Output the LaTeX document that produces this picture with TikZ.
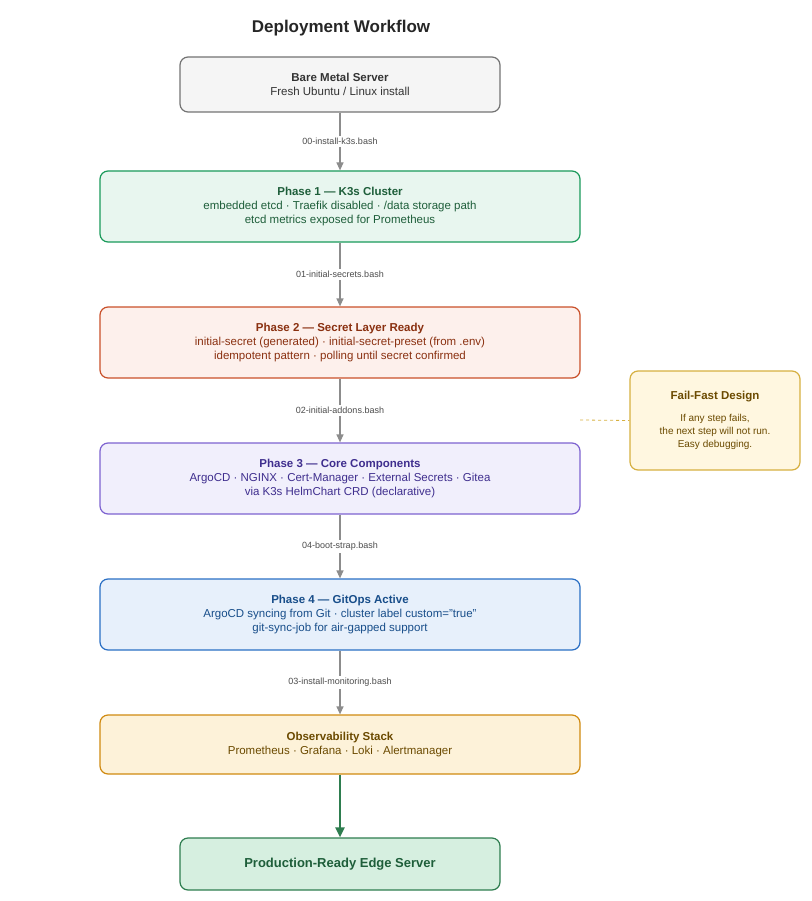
\documentclass[tikz,border=0pt]{standalone}
\usepackage{fontspec}
\setmainfont{Liberation Sans}
\usetikzlibrary{arrows.meta}
\definecolor{gS}{HTML}{1A9A5A}\definecolor{gF}{HTML}{E8F6EF}\definecolor{gT}{HTML}{1E5E3A}
\definecolor{rS}{HTML}{C9502A}\definecolor{rF}{HTML}{FDF0EC}\definecolor{rT}{HTML}{8A3010}
\definecolor{pS}{HTML}{7D62D0}\definecolor{pF}{HTML}{F1EFFC}\definecolor{pT}{HTML}{3F2E8E}
\definecolor{bS}{HTML}{2A6FC4}\definecolor{bF}{HTML}{E7F0FB}\definecolor{bT}{HTML}{184E8A}
\definecolor{oS}{HTML}{D08A10}\definecolor{oF}{HTML}{FDF2D9}\definecolor{oT}{HTML}{6B4A00}
\definecolor{fS}{HTML}{D6B040}\definecolor{fF}{HTML}{FFF7E0}
\definecolor{eS}{HTML}{2E7D4F}\definecolor{eF}{HTML}{D6EFE0}
\begin{document}
\begin{tikzpicture}[x=1pt,y=-1pt,
 box/.style={draw,rounded corners=8pt,line width=1.2pt,align=center,font=\fontsize{11.5}{14}\selectfont,inner sep=0pt},
 arr/.style={draw=gray!90,line width=1.2pt,-{Triangle[length=8pt,width=7pt]}},
 lab/.style={fill=white,font=\fontsize{9}{10}\selectfont,text=black!70,inner sep=2pt}]
\useasboundingbox (0,0) rectangle (811,901);
\node[font=\bfseries\fontsize{17}{20}\selectfont,text=black!85] (t) at (341,28) {Deployment Workflow};
\node[box,draw=black!55,fill=black!4,minimum width=320pt,minimum height=55pt,text=black!80] (b0) at (340,84.5) {\textbf{Bare Metal Server}\\Fresh Ubuntu / Linux install};
\node[box,draw=gS,fill=gF,text=gT,minimum width=480pt,minimum height=71pt] (b1) at (340,206.5) {\textbf{Phase 1 — K3s Cluster}\\embedded etcd · Traefik disabled · /data storage path\\etcd metrics exposed for Prometheus};
\node[box,draw=rS,fill=rF,text=rT,minimum width=480pt,minimum height=71pt] (b2) at (340,342.5) {\textbf{Phase 2 — Secret Layer Ready}\\initial-secret (generated) · initial-secret-preset (from .env)\\idempotent pattern · polling until secret confirmed};
\node[box,draw=pS,fill=pF,text=pT,minimum width=480pt,minimum height=71pt] (b3) at (340,478.5) {\textbf{Phase 3 — Core Components}\\ArgoCD · NGINX · Cert-Manager · External Secrets · Gitea\\via K3s HelmChart CRD (declarative)};
\node[box,draw=bS,fill=bF,text=bT,minimum width=480pt,minimum height=71pt] (b4) at (340,614.5) {\textbf{Phase 4 — GitOps Active}\\ArgoCD syncing from Git · cluster label custom="true"\\git-sync-job for air-gapped support};
\node[box,draw=oS,fill=oF,text=oT,minimum width=480pt,minimum height=59pt] (b5) at (340,744.5) {\textbf{Observability Stack}\\Prometheus · Grafana · Loki · Alertmanager};
\node[box,draw=eS,fill=eF,text=gT,minimum width=320pt,minimum height=52pt,font=\bfseries\fontsize{13}{15}\selectfont] (b6) at (340,864) {Production-Ready Edge Server};
\node[box,draw=fS,fill=fF,text=oT,minimum width=170pt,minimum height=99pt,font=\fontsize{10}{13}\selectfont] (ff) at (715,420.5) {\textbf{\fontsize{11.5}{14}\selectfont Fail-Fast Design}\\[9pt]If any step fails,\\the next step will not run.\\Easy debugging.};
\coordinate (d) at (580,420);
\draw[fS,dashed,line width=0.8pt] (d) -- (ff.west);
\draw[arr] (b0) -- node[lab]{00-install-k3s.bash} (b1);
\draw[arr] (b1) -- node[lab]{01-initial-secrets.bash} (b2);
\draw[arr] (b2) -- node[lab]{02-initial-addons.bash} (b3);
\draw[arr] (b3) -- node[lab]{04-boot-strap.bash} (b4);
\draw[arr] (b4) -- node[lab]{03-install-monitoring.bash} (b5);
\draw[draw=eS,line width=2pt,-{Triangle[length=10pt,width=9pt]}] (b5) -- (b6);
\end{tikzpicture}
\end{document}
